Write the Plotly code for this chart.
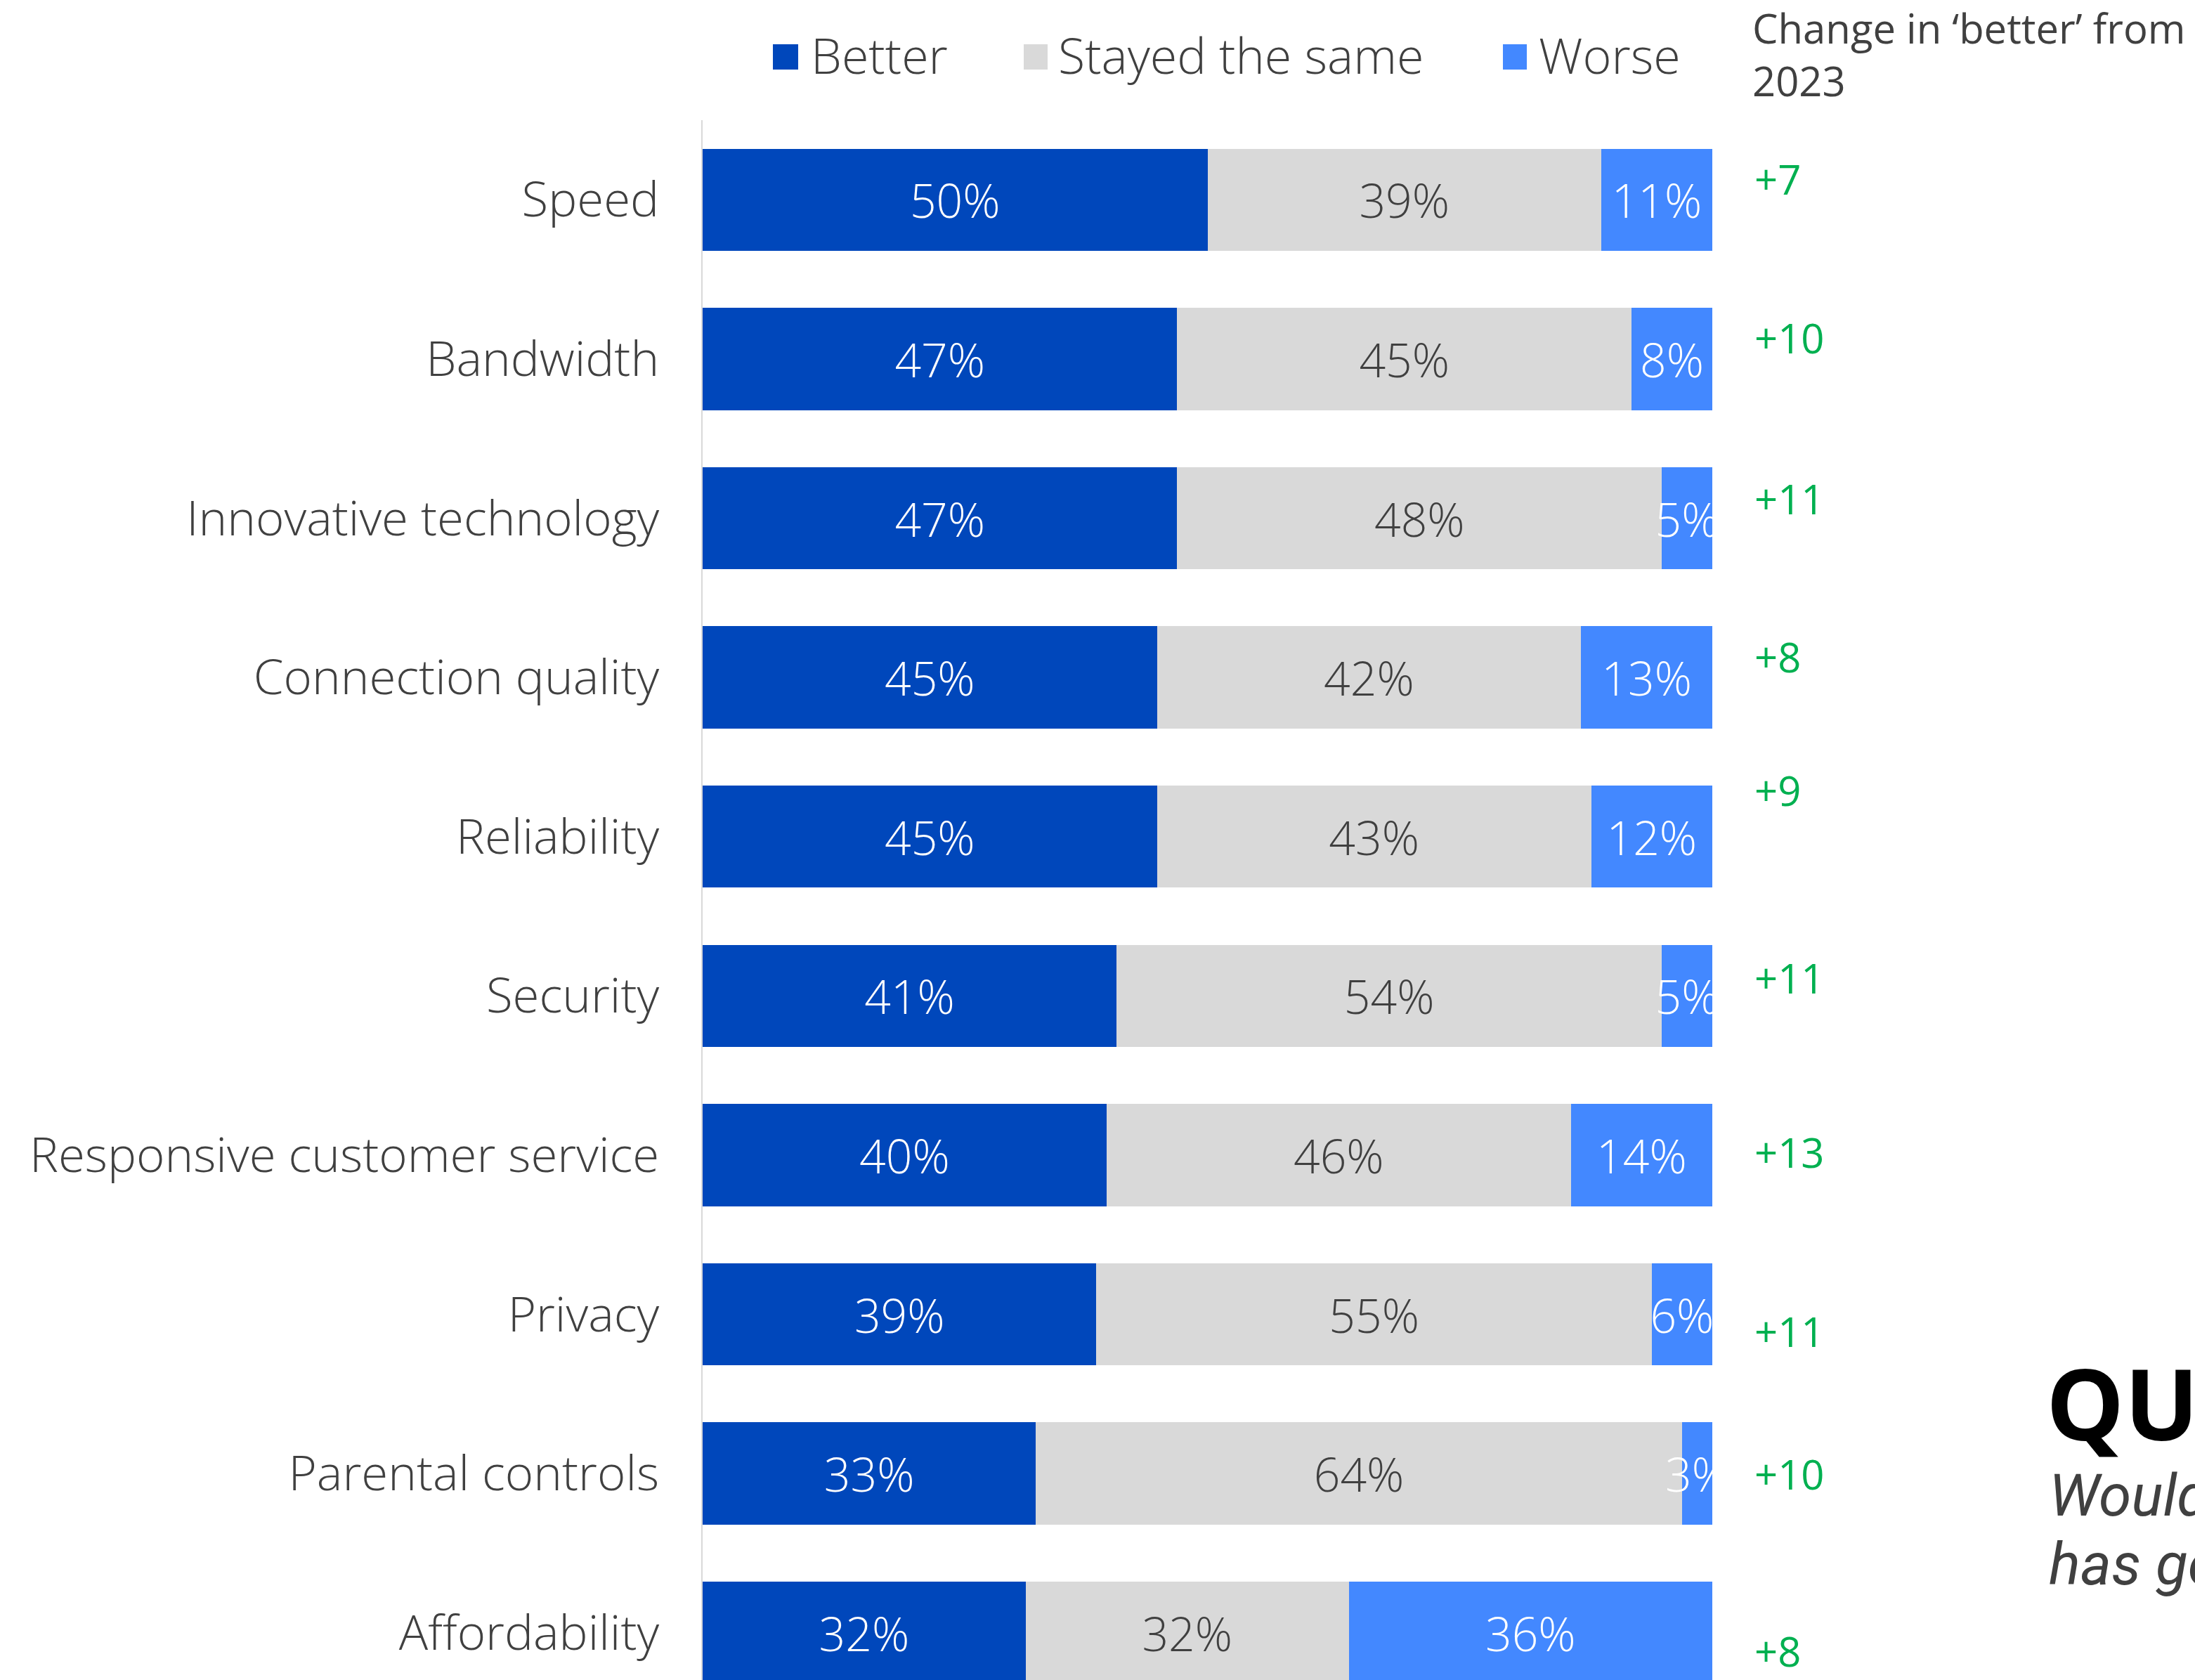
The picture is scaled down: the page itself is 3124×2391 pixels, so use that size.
import plotly.graph_objects as go

# Survey results: share of respondents saying each aspect got better / stayed the same / worse
categories = [
    "Speed",
    "Bandwidth",
    "Innovative technology",
    "Connection quality",
    "Reliability",
    "Security",
    "Responsive customer service",
    "Privacy",
    "Parental controls",
    "Affordability",
]
better = [50, 47, 47, 45, 45, 41, 40, 39, 33, 32]
same = [39, 45, 48, 42, 43, 54, 46, 55, 64, 32]
worse = [11, 8, 5, 13, 12, 5, 14, 6, 3, 36]
change_vs_2023 = [7, 10, 11, 8, 9, 11, 13, 11, 10, 8]
series_names = ["Better", "Stayed the same", "Worse"]
change_header = ["Change in ‘better’ from", "2023"]

# Styling
W, H = 3124, 2391
M_L, M_R, M_T, M_B = 1000, 687, 171, 0
PLOT_W = W - M_L - M_R
PLOT_H = H - M_T - M_B
COLORS = ["#0047BB", "#D9D9D9", "#4388FF"]
LABEL_COLORS = ["#FFFFFF", "#404040", "#FFFFFF"]
TEXT = "#404040"
GREEN = "#00B050"
FONT = "Open Sans"
FS_CAT = 69
FS_BAR = 66
FS_LEG = 70
FS_HEAD = 58
FS_CHG = 58
# small vertical nudges (px) of the change labels relative to their rows
change_nudge = [30, 30, 28, 30, 66, 26, 4, -24, 0, -26]


def px_x(p):
    return (p - M_L) / PLOT_W


def px_y(p):
    return 1 - (p - M_T) / PLOT_H


fig = go.Figure()
for name, vals, col, lcol in zip(series_names, [better, same, worse], COLORS, LABEL_COLORS):
    fig.add_trace(go.Bar(
        name=name,
        y=categories,
        x=vals,
        orientation="h",
        width=0.642,
        marker=dict(color=col, line=dict(width=0)),
        text=[f"{v}%" for v in vals],
        textposition="inside",
        insidetextanchor="middle",
        textangle=0,
        insidetextfont=dict(family=FONT, size=FS_BAR, color=lcol, weight=300),
        showlegend=False,
        hoverinfo="skip",
    ))

annotations = []
shapes = []

# Legend drawn as squares + labels above the bars
legend_sq = [(1100, 1136), (1457, 1491), (2139, 2173)]
legend_tx = [1152, 1504, 2188]
for name, col, (s0, s1), tx in zip(series_names, COLORS, legend_sq, legend_tx):
    shapes.append(dict(type="rect", xref="paper", yref="paper",
                       x0=px_x(s0), x1=px_x(s1), y0=px_y(99), y1=px_y(63),
                       fillcolor=col, line=dict(width=0)))
    annotations.append(dict(text=name, xref="paper", yref="paper",
                            x=px_x(tx), y=px_y(78), xanchor="left", yanchor="middle",
                            showarrow=False,
                            font=dict(family=FONT, size=FS_LEG, color=TEXT, weight=300)))

# Column header for the change values
annotations.append(dict(text="<br>".join(change_header), xref="paper", yref="paper",
                        x=px_x(2492), y=px_y(77), xanchor="left", yanchor="middle",
                        align="left", showarrow=False,
                        font=dict(family=FONT, size=FS_HEAD, color=TEXT, weight=400)))

# Change in "better" since 2023, next to each bar
for cat, ch, nudge in zip(categories, change_vs_2023, change_nudge):
    annotations.append(dict(text=f"+{ch}", xref="x", yref="y", x=100, y=cat,
                            xanchor="left", yanchor="middle", xshift=58, yshift=nudge,
                            showarrow=False,
                            font=dict(family=FONT, size=FS_CHG, color=GREEN, weight=400)))

# Question block
annotations.append(dict(text="QUESTION", xref="paper", yref="paper",
                        x=px_x(2910), y=px_y(1995), xanchor="left", yanchor="middle",
                        showarrow=False,
                        font=dict(family=FONT, size=140, color="#000000", weight=700)))
annotations.append(dict(text="<i>Would you say each of the following</i>", xref="paper", yref="paper",
                        x=px_x(2914), y=px_y(2128), xanchor="left", yanchor="middle",
                        showarrow=False,
                        font=dict(family="Roboto", size=84, color=TEXT)))
annotations.append(dict(text="<i>has gotten better, worse or stayed the same?</i>", xref="paper", yref="paper",
                        x=px_x(2914), y=px_y(2226), xanchor="left", yanchor="middle",
                        showarrow=False,
                        font=dict(family="Roboto", size=84, color=TEXT)))

fig.update_layout(
    width=W, height=H,
    margin=dict(l=M_L, r=M_R, t=M_T, b=M_B, autoexpand=False),
    barmode="stack",
    plot_bgcolor="white",
    paper_bgcolor="white",
    uniformtext=dict(minsize=FS_BAR, mode="show"),
    annotations=annotations,
    shapes=shapes,
    showlegend=False,
)
fig.update_xaxes(range=[0, 100], visible=False, fixedrange=True)
fig.update_yaxes(
    type="category",
    categoryorder="array", categoryarray=categories,
    range=[9.297, -0.5],
    showgrid=False, zeroline=False,
    showline=True, linecolor="#D9D9D9", linewidth=2,
    ticks="", ticklabelstandoff=46,
    tickfont=dict(family=FONT, size=FS_CAT, color=TEXT, weight=300),
    automargin=False,
)

fig.write_html("out.html")
